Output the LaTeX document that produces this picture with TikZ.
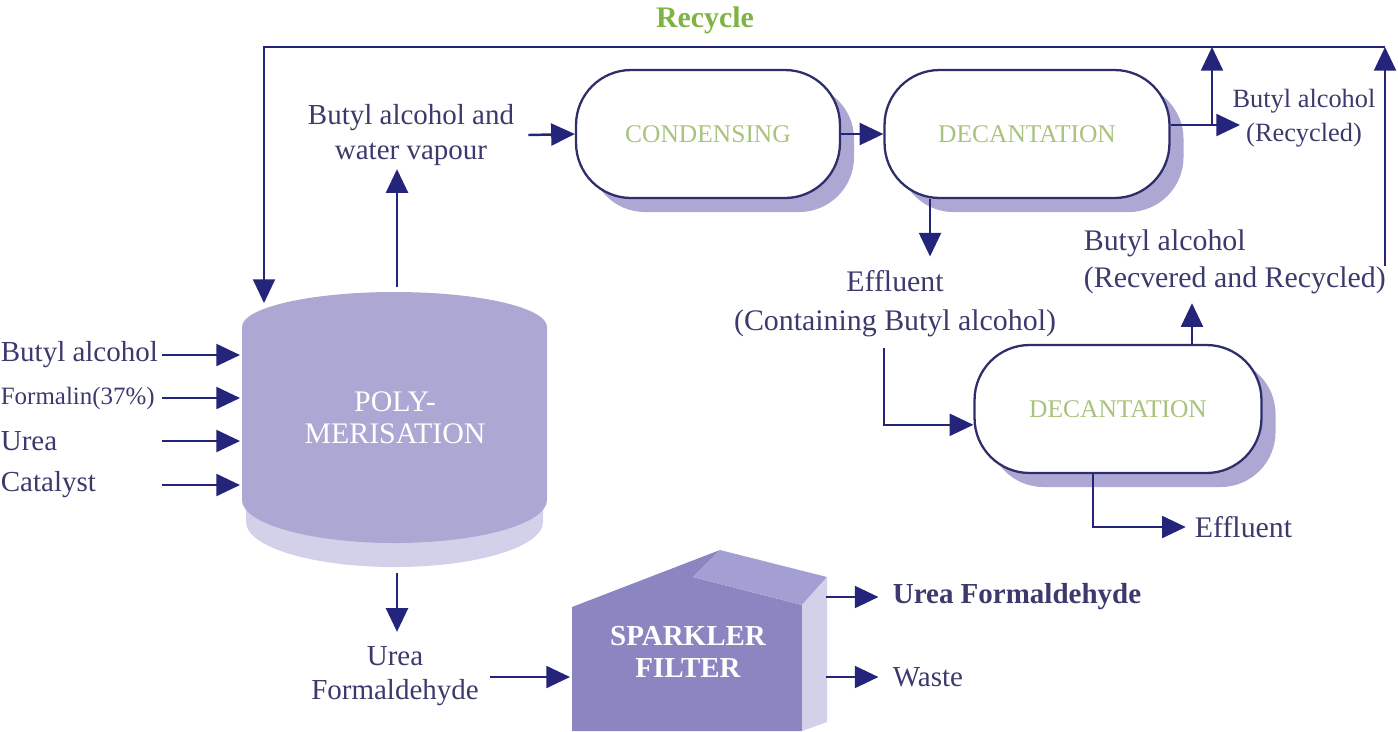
\documentclass[tikz,border=0pt]{standalone}
\usepackage{fontspec}
\setmainfont{Liberation Serif}
\usetikzlibrary{arrows.meta,shadows}

\definecolor{ink}{HTML}{3A3A6C}
\definecolor{flowline}{HTML}{24247A}
\definecolor{boxline}{HTML}{2E2E6A}
\definecolor{lilac}{HTML}{ADA8D3}
\definecolor{lilacpale}{HTML}{D3D0EA}
\definecolor{lilacdark}{HTML}{8B85C1}
\definecolor{lilacroof}{HTML}{A49FD3}
\definecolor{leafgreen}{HTML}{7DB443}
\definecolor{palegreen}{HTML}{A8C47C}

\begin{document}
\begin{tikzpicture}[x=0.02cm, y=-0.02cm,
    flow/.style={draw=flowline, line width=1.4pt, -{Triangle[length=13.5pt,width=12.5pt]}},
    unit/.style={draw=boxline, line width=1.3pt, fill=white, rounded corners=1.1cm,
        minimum height=2.56cm, text=palegreen, font=\fontsize{14.5}{17}\selectfont,
        general shadow={fill=lilac, shadow xshift=8pt, shadow yshift=-8pt}},
    lbl/.style={text=ink, font=\fontsize{16.5}{19.5}\selectfont, align=center, inner sep=2pt}]
    \useasboundingbox (0,0) rectangle (1398,731);

    % polymerisation vessel
    \fill[lilacpale] (246,330) -- (246,522) arc[start angle=180, end angle=0, x radius=148.5, y radius=45] -- (543,330) -- cycle;
    \fill[lilac] (242,327) arc[start angle=180, end angle=360, x radius=152.5, y radius=35]
        -- (547,500) arc[start angle=0, end angle=180, x radius=152.5, y radius=43] -- cycle;
    \node[text=white, font=\fontsize{17}{18}\selectfont, align=center] (poly) at (395,418) {POLY-\\MERISATION};

    % sparkler filter
    \fill[lilacdark] (572,731) -- (572,607) -- (720,550) -- (693,577) -- (802,605) -- (802,731) -- cycle;
    \fill[lilacroof] (693,577) -- (720,550) -- (827,577) -- (802,605) -- cycle;
    \fill[lilacpale] (802,605) -- (827,577) -- (827,722) -- (802,731) -- cycle;
    \node[text=white, font=\bfseries\fontsize{16.5}{18}\selectfont, align=center] (filter) at (688,652) {SPARKLER\\FILTER};

    % process units
    \node[unit, minimum width=5.28cm] (cond) at (708,134) {CONDENSING};
    \node[unit, minimum width=5.7cm] (decant) at (1027,134) {DECANTATION};
    \node[unit, minimum width=5.74cm] (decantb) at (1118,409) {DECANTATION};

    % labels
    \node[lbl, anchor=west] (inbut) at (-3,355) {Butyl alcohol};
    \node[lbl, anchor=west, font=\fontsize{14.2}{17}\selectfont] (inform) at (-3,398) {Formalin(37\%)};
    \node[lbl, anchor=west] (inurea) at (-3,441) {Urea};
    \node[lbl, anchor=west] (incat) at (-3,485) {Catalyst};
    \node[lbl] (bavap) at (411,135) {Butyl alcohol and\\water vapour};
    \node[lbl, font=\fontsize{15}{19.5}\selectfont] (barlbl) at (1304,118) {Butyl alcohol\\(Recycled)};
    \node[lbl, font=\fontsize{17}{21}\selectfont, align=left, anchor=west] (reclbl) at (1080,262) {Butyl alcohol\\(Recvered and Recycled)};
    \node[lbl, font=\fontsize{17}{22}\selectfont] (effl) at (895,304) {Effluent\\(Containing Butyl alcohol)};
    \node[lbl, font=\fontsize{17}{20}\selectfont, anchor=west] (efflb) at (1191,527) {Effluent};
    \node[lbl, font=\fontsize{16.5}{19.5}\selectfont] (ufl) at (395,676) {Urea\\Formaldehyde};
    \node[lbl, font=\bfseries\fontsize{16.5}{19.5}\selectfont, anchor=west] (ufprod) at (889,597) {Urea Formaldehyde};
    \node[lbl, anchor=west] (waste) at (889,677) {Waste};
    \node[text=leafgreen, font=\bfseries\fontsize{17}{20}\selectfont] (rectxt) at (705,20) {Recycle};

    % free ends
    \coordinate (feedA) at (162,355); \coordinate (wallA) at (240,355);
    \coordinate (feedB) at (162,398); \coordinate (wallB) at (240,398);
    \coordinate (feedC) at (162,441); \coordinate (wallC) at (240,441);
    \coordinate (feedD) at (162,485); \coordinate (wallD) at (240,485);
    \coordinate (polytop) at (397,287);
    \coordinate (polybot) at (397,573);
    \coordinate (rectop) at (264,303);
    \coordinate (rcl) at (264,47);
    \coordinate (rcr) at (1385,47);
    \coordinate (rcbot) at (1385,266);
    \coordinate (split) at (1212,125);
    \coordinate (bartip) at (1240,125);
    \coordinate (filtin) at (570,677);
    \coordinate (filtoutA) at (826,597);
    \coordinate (filtoutB) at (826,677);

    % connectors
    \draw[flow] (feedA) -- (wallA);
    \draw[flow] (feedB) -- (wallB);
    \draw[flow] (feedC) -- (wallC);
    \draw[flow] (feedD) -- (wallD);
    \draw[flow] (polytop) -- (polytop |- bavap.south);
    \draw[flow] ([xshift=6pt]bavap.east) -- (cond.west);
    \draw[flow] (cond.east) -- (decant.west);
    \draw[flow] (split -| decant.east) -- (bartip);
    \draw[flow] (split) -- (split |- rcl);
    \draw[flow] ([xshift=-1.94cm]decant.south) -- ([xshift=-1.94cm,yshift=6pt]decant.south |- effl.north);
    \draw[flow] ([xshift=-0.22cm,yshift=-4pt]effl.south) |- ([yshift=-9pt]decantb.west);
    \draw[flow] ([xshift=1.48cm]decantb.north) -- ([xshift=1.48cm,yshift=-3pt]decantb.north |- reclbl.south);
    \draw[flow] ([xshift=-0.5cm]decantb.south) |- ([xshift=-3pt]efflb.west);
    \draw[flow] (rcbot) -- (rcr);
    \draw[flow] (rcr) -- (rcl) -- (rectop);
    \draw[flow] (polybot) -- ([yshift=6pt]polybot |- ufl.north);
    \draw[flow] ([xshift=4pt]ufl.east |- filtin) -- (filtin);
    \draw[flow] (filtoutA) -- ([xshift=-6pt]ufprod.west);
    \draw[flow] (filtoutB) -- ([xshift=-6pt]waste.west);
\end{tikzpicture}
\end{document}
